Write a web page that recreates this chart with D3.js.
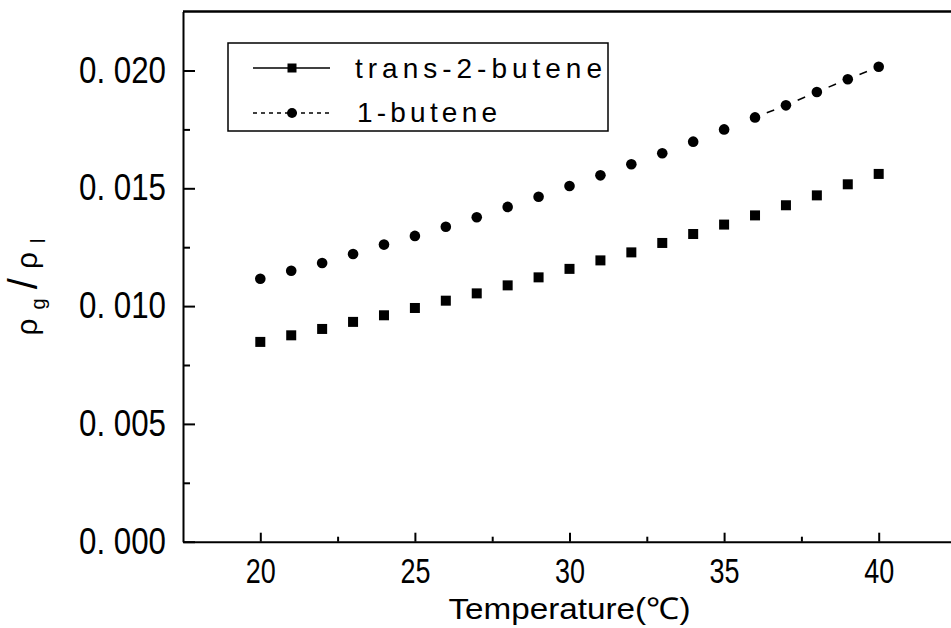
<!DOCTYPE html>
<html>
<head>
<meta charset="utf-8">
<script src="https://cdn.jsdelivr.net/npm/d3@7"></script>
<style>
body { margin:0; background:#fff; }
text { font-family: "Liberation Sans", Arial, sans-serif; fill:#000; }
</style>
</head>
<body>
<svg id="chart" width="951" height="628"></svg>
<script>
// data
var temps = [20,21,22,23,24,25,26,27,28,29,30,31,32,33,34,35,36,37,38,39,40];
var trans2butene = [0.00848,0.00876,0.00903,0.00933,0.00961,0.00992,0.01023,0.01054,0.01088,0.01122,0.01158,
                    0.01194,0.01228,0.01268,0.01306,0.01346,0.01385,0.01428,0.01470,0.01517,0.01561];
var butene1 = [0.01116,0.01150,0.01183,0.01221,0.01261,0.01298,0.01337,0.01377,0.01421,0.01464,0.01510,
               0.01555,0.01602,0.01649,0.01698,0.01750,0.01801,0.01852,0.01909,0.01963,0.02016];
var seriesNames = ["trans-2-butene", "1-butene"];
var xTicks = [20,25,30,35,40];
var xMinorTicks = [22.5,27.5,32.5,37.5,42.5];
var yTicks = [0,0.005,0.010,0.015,0.020];
var yMinorTicks = [0.0025,0.0075,0.0125,0.0175];
var yTickLabels = ["0. 000","0. 005","0. 010","0. 015","0. 020"];
var xLabel = "Temperature(\u2103)";

var svg = d3.select("#chart");

var x = d3.scaleLinear().domain([17.5, 42.5]).range([183, 956]);
var y = d3.scaleLinear().domain([0, 0.0225]).range([541.7, 11.6]);

function drawChart() {
  // minor ticks first
  svg.append("g")
      .attr("transform", "translate(" + x.range()[0] + ",0)")
      .call(d3.axisLeft(y).tickValues(yMinorTicks).tickSize(-7).tickSizeOuter(0).tickFormat(""))
      .call(function(g){ g.select(".domain").remove(); });
  svg.append("g")
      .attr("transform", "translate(0," + y.range()[0] + ")")
      .call(d3.axisBottom(x).tickValues(xMinorTicks).tickSize(-5).tickSizeOuter(0).tickFormat(""))
      .call(function(g){ g.select(".domain").remove(); });

  // y axis
  var yAxis = svg.append("g")
      .attr("id", "yAxis")
      .attr("transform", "translate(" + x.range()[0] + ",0)")
      .call(d3.axisLeft(y).tickValues(yTicks).tickSize(-12).tickSizeOuter(0).tickPadding(17)
            .tickFormat(function(d, i){ return yTickLabels[i]; }));
  yAxis.selectAll("text")
      .style("font-size", "36px")
      .attr("textLength", 87)
      .attr("lengthAdjust", "spacingAndGlyphs");

  // x axis
  var xAxis = svg.append("g")
      .attr("id", "xAxis")
      .attr("transform", "translate(0," + y.range()[0] + ")")
      .call(d3.axisBottom(x).tickValues(xTicks).tickSize(-9).tickSizeOuter(0).tickPadding(16));
  xAxis.selectAll("text")
      .style("font-size", "35px")
      .attr("textLength", 30)
      .attr("lengthAdjust", "spacingAndGlyphs");

  svg.selectAll(".domain, .tick line").attr("stroke", "#000").attr("stroke-width", 2);

  // top frame line
  svg.append("line")
      .attr("x1", x(17.5)).attr("x2", 951)
      .attr("y1", y(0.0225)).attr("y2", y(0.0225))
      .attr("stroke", "#000").attr("stroke-width", 2.5);

  // axis titles
  svg.append("text")
      .attr("x", x(30)).attr("y", 619)
      .attr("text-anchor", "middle")
      .style("font-size", "30px")
      .attr("textLength", 242)
      .attr("lengthAdjust", "spacingAndGlyphs")
      .text(xLabel);

  var yl = svg.append("text")
      .attr("transform", "translate(37,287) rotate(-90)")
      .attr("text-anchor", "middle")
      .style("font-size", "30px")
      .attr("textLength", 97)
      .attr("lengthAdjust", "spacing");
  yl.append("tspan").text("\u03c1");
  yl.append("tspan").attr("dy", 8).style("font-size", "20px").text("g");
  yl.append("tspan").attr("dy", -8).style("font-size", "40px").text("/");
  yl.append("tspan").text("\u03c1");
  yl.append("tspan").attr("dy", 8).style("font-size", "20px").text("l");

  // 1-butene dashes (only visible between the last points)
  var pts = temps.map(function(t, i){ return {t: t, v: butene1[i]}; });
  for (var i = 1; i < pts.length; i++) {
    if (pts[i-1].t < 36) continue;
    var x0 = x(pts[i-1].t), y0 = y(pts[i-1].v), x1 = x(pts[i].t), y1 = y(pts[i].v);
    svg.append("line")
        .attr("x1", x0 + (x1-x0)*0.38).attr("y1", y0 + (y1-y0)*0.38)
        .attr("x2", x0 + (x1-x0)*0.62).attr("y2", y0 + (y1-y0)*0.62)
        .attr("stroke", "#000").attr("stroke-width", 1.5);
  }

  // markers
  svg.selectAll(".pt1")
      .data(butene1)
    .enter().append("circle")
      .attr("class", "pt1")
      .attr("cx", function(d, i){ return x(temps[i]); })
      .attr("cy", function(d){ return y(d); })
      .attr("r", 5.3)
      .attr("fill", "#000");

  svg.selectAll(".pt2")
      .data(trans2butene)
    .enter().append("rect")
      .attr("class", "pt2")
      .attr("x", function(d, i){ return x(temps[i]) - 5; })
      .attr("y", function(d){ return y(d) - 5; })
      .attr("width", 10).attr("height", 10)
      .attr("fill", "#000");

  // legend
  var lg = svg.append("g").attr("transform", "translate(228,43)");
  lg.append("rect")
      .attr("width", 380).attr("height", 88)
      .attr("fill", "#fff").attr("stroke", "#000").attr("stroke-width", 1.5);
  lg.append("line").attr("x1", 25).attr("x2", 102).attr("y1", 25).attr("y2", 25)
      .attr("stroke", "#000").attr("stroke-width", 1.5);
  lg.append("rect").attr("x", 59.5).attr("y", 20.5).attr("width", 9).attr("height", 9).attr("fill", "#000");
  lg.append("text").attr("x", 127).attr("y", 35)
      .style("font-size", "28px")
      .attr("textLength", 247).attr("lengthAdjust", "spacing")
      .text(seriesNames[0]);
  lg.append("line").attr("x1", 25).attr("x2", 102).attr("y1", 70).attr("y2", 70)
      .attr("stroke", "#000").attr("stroke-width", 1.5).attr("stroke-dasharray", "4,4");
  lg.append("circle").attr("cx", 64).attr("cy", 70).attr("r", 5).attr("fill", "#000");
  lg.append("text").attr("x", 129).attr("y", 79)
      .style("font-size", "28px")
      .attr("textLength", 140).attr("lengthAdjust", "spacing")
      .text(seriesNames[1]);
}

drawChart();
</script>
</body>
</html>
